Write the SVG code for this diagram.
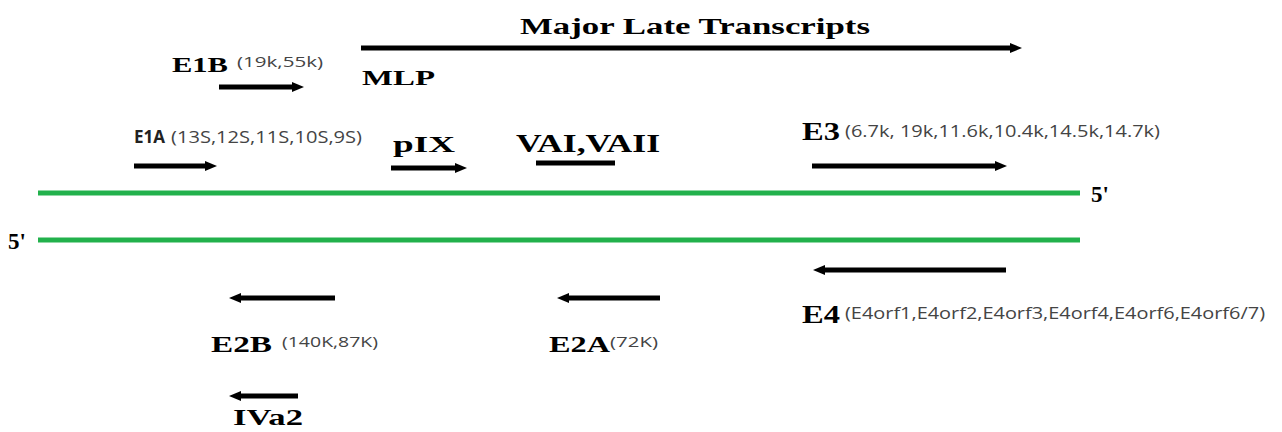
<svg xmlns="http://www.w3.org/2000/svg" width="1282" height="432" viewBox="0 0 1282 432">
<style>
.t{font-family:"Liberation Serif",serif;font-weight:bold;fill:#000}
.s{font-family:"Open Sans","Liberation Sans",sans-serif;fill:#444}
.a{stroke:#000;stroke-width:5;fill:none}
.g{stroke:#22b14c;stroke-width:5}
</style>
<defs>
<marker id="ah" markerUnits="userSpaceOnUse" markerWidth="14" markerHeight="14" refX="2" refY="7" orient="auto">
<path d="M0,2 L12,7 L0,12 Z" fill="#000"/>
</marker>
</defs>
<rect width="1282" height="432" fill="#fff"/>
<g id="strands">
<line class="g" x1="38" y1="193" x2="1080" y2="193"/>
<line class="g" x1="38" y1="240" x2="1080" y2="240"/>
<text class="t" x="1091" y="202" font-size="23">5'</text>
<text class="t" x="8" y="249" font-size="23">5'</text>
</g>
<g id="connectors">
<line class="a" x1="361" y1="48" x2="1012" y2="48" marker-end="url(#ah)"/>
<line class="a" x1="219" y1="87" x2="294" y2="87" marker-end="url(#ah)"/>
<line class="a" x1="134" y1="166" x2="207" y2="166" marker-end="url(#ah)"/>
<line class="a" x1="391" y1="168" x2="457" y2="168" marker-end="url(#ah)"/>
<line class="a" x1="536" y1="163" x2="615" y2="163"/>
<line class="a" x1="812" y1="166" x2="997" y2="166" marker-end="url(#ah)"/>
<line class="a" x1="1006" y1="270" x2="823" y2="270" marker-end="url(#ah)"/>
<line class="a" x1="335" y1="298" x2="239" y2="298" marker-end="url(#ah)"/>
<line class="a" x1="660" y1="298" x2="567" y2="298" marker-end="url(#ah)"/>
<line class="a" x1="298" y1="396" x2="239" y2="396" marker-end="url(#ah)"/>
</g>
<g id="mlt"><text class="t" x="520" y="34" font-size="24" textLength="350" lengthAdjust="spacingAndGlyphs">Major Late Transcripts</text></g>
<g id="mlp"><text class="t" x="362" y="85" font-size="22" textLength="73" lengthAdjust="spacingAndGlyphs">MLP</text></g>
<g id="e1b"><text class="t" x="172" y="72" font-size="22" textLength="56" lengthAdjust="spacingAndGlyphs">E1B</text>
<text class="s" x="237" y="67" font-size="15" textLength="86" lengthAdjust="spacingAndGlyphs">(19k,55k)</text></g>
<g id="e1a"><text x="134" y="143" font-size="18" font-weight="bold" font-family="Open Sans,Liberation Sans,sans-serif" fill="#222" textLength="31" lengthAdjust="spacingAndGlyphs">E1A</text>
<text class="s" x="171" y="143" font-size="17" textLength="191" lengthAdjust="spacingAndGlyphs">(13S,12S,11S,10S,9S)</text></g>
<g id="pix"><text class="t" x="393" y="152" font-size="24" textLength="62" lengthAdjust="spacingAndGlyphs">pIX</text></g>
<g id="vai"><text class="t" x="516" y="152" font-size="26" textLength="144" lengthAdjust="spacingAndGlyphs">VAI,VAII</text></g>
<g id="e3"><text class="t" x="802" y="140" font-size="26" textLength="38" lengthAdjust="spacingAndGlyphs">E3</text>
<text class="s" x="845" y="137" font-size="16" textLength="315" lengthAdjust="spacingAndGlyphs">(6.7k, 19k,11.6k,10.4k,14.5k,14.7k)</text></g>
<g id="e4"><text class="t" x="802" y="323" font-size="26" textLength="38" lengthAdjust="spacingAndGlyphs">E4</text>
<text class="s" x="845" y="319" font-size="16" textLength="420" lengthAdjust="spacingAndGlyphs">(E4orf1,E4orf2,E4orf3,E4orf4,E4orf6,E4orf6/7)</text></g>
<g id="e2b"><text class="t" x="211" y="352" font-size="24" textLength="61" lengthAdjust="spacingAndGlyphs">E2B</text>
<text class="s" x="282" y="347" font-size="15" textLength="96" lengthAdjust="spacingAndGlyphs">(140K,87K)</text></g>
<g id="e2a"><text class="t" x="549" y="352" font-size="24" textLength="61" lengthAdjust="spacingAndGlyphs">E2A</text>
<text class="s" x="610" y="347" font-size="15" textLength="48" lengthAdjust="spacingAndGlyphs">(72K)</text></g>
<g id="iva2"><text class="t" x="233" y="425" font-size="24" textLength="70" lengthAdjust="spacingAndGlyphs">IVa2</text></g>
</svg>
